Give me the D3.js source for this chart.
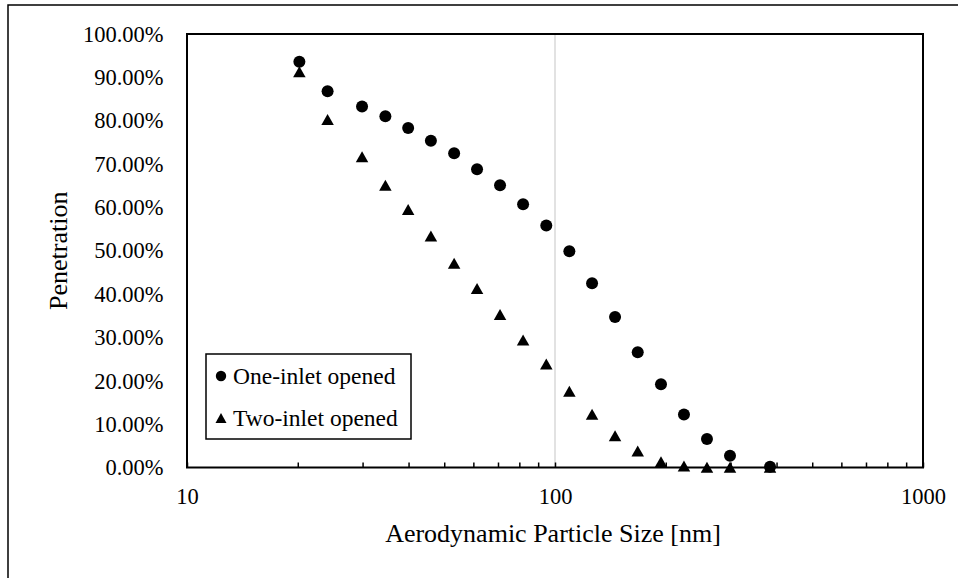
<!DOCTYPE html>
<html>
<head>
<meta charset="utf-8">
<script src="https://cdn.jsdelivr.net/npm/d3@7"></script>
<style>
  html, body { margin: 0; padding: 0; background: #fff; }
  svg { display: block; }
  text { font-family: "Liberation Serif", "Times New Roman", serif; fill: #000; }
</style>
</head>
<body>
<svg id="chart" width="958" height="578"></svg>
<script>
// Aerodynamic particle size bins [nm]
const sizes = [20.2, 24.1, 29.9, 34.6, 39.9, 46.0, 53.2, 61.4, 70.9, 81.9,
               94.7, 109.4, 126.1, 145.6, 167.8, 194.1, 224.1, 258.8, 298.9, 384.0];
// Penetration (fraction) with one inlet opened
const oneInlet = [0.936, 0.868, 0.833, 0.810, 0.783, 0.754, 0.725, 0.688, 0.651, 0.607,
                  0.558, 0.499, 0.425, 0.347, 0.266, 0.192, 0.122, 0.066, 0.027, 0.002];
// Penetration (fraction) with two inlets opened
const twoInlet = [0.913, 0.803, 0.717, 0.651, 0.595, 0.534, 0.471, 0.413, 0.353, 0.294,
                  0.239, 0.176, 0.123, 0.073, 0.038, 0.013, 0.0035, 0.0005, 0.0005, 0.0003];
const seriesNames = ["One-inlet opened", "Two-inlet opened"];
const yTicks = [0, 0.1, 0.2, 0.3, 0.4, 0.5, 0.6, 0.7, 0.8, 0.9, 1.0];
const xMajorTicks = [10, 100, 1000];

const svg = d3.select("#chart");
const plot = { left: 187, right: 923, top: 34, bottom: 467.5 };

const x = d3.scaleLog().domain([10, 1000]).range([plot.left, plot.right]);
const y = d3.scaleLinear().domain([0, 1]).range([plot.bottom, plot.top]);

// outer chart border (top and left edges visible)
svg.append("path")
  .attr("d", "M8,578V5H958")
  .attr("fill", "none").attr("stroke", "#000").attr("stroke-width", 1.5);

// vertical gridline at each inner decade
svg.append("g").selectAll("line")
  .data(xMajorTicks.filter(v => v > 10 && v < 1000))
  .join("line")
  .attr("x1", d => x(d)).attr("x2", d => x(d))
  .attr("y1", plot.top).attr("y2", plot.bottom)
  .attr("stroke", "#d9d9d9").attr("stroke-width", 1.5);

// x axis: minor ticks pointing into the plot, labels only at decades
const minorTicks = [];
for (const dec of [10, 100]) for (let k = 1; k <= 9; k++) minorTicks.push(dec * k);
minorTicks.push(1000);
const xAxis = d3.axisBottom(x)
  .tickValues(minorTicks)
  .tickSizeInner(-5).tickSizeOuter(0)
  .tickPadding(21)
  .tickFormat(d => xMajorTicks.includes(d) ? String(d) : "");
const gx = svg.append("g").attr("transform", `translate(0,${plot.bottom})`).call(xAxis);
gx.select(".domain").remove();
gx.selectAll(".tick line").attr("stroke", "#000").attr("stroke-width", 1.5);
gx.selectAll(".tick text").attr("font-size", 22.5).attr("font-family", "Liberation Serif");

// y axis: percentage labels, no tick marks
const yAxis = d3.axisLeft(y)
  .tickValues(yTicks)
  .tickSize(0).tickPadding(23.5)
  .tickFormat(d3.format(".2%"));
const gy = svg.append("g").attr("transform", `translate(${plot.left},0)`).call(yAxis);
gy.select(".domain").remove();
gy.selectAll(".tick text").attr("font-size", 22.5).attr("font-family", "Liberation Serif");

// plot frame
svg.append("rect")
  .attr("x", plot.left).attr("y", plot.top)
  .attr("width", plot.right - plot.left).attr("height", plot.bottom - plot.top)
  .attr("fill", "none").attr("stroke", "#000").attr("stroke-width", 2);

// axis titles
svg.append("text")
  .attr("x", 553).attr("y", 542)
  .attr("text-anchor", "middle").attr("font-size", 26)
  .text("Aerodynamic Particle Size [nm]");
svg.append("text")
  .attr("transform", `translate(67,${(plot.top + plot.bottom) / 2}) rotate(-90)`)
  .attr("text-anchor", "middle").attr("font-size", 26)
  .text("Penetration");

// triangle marker centred on its bounding box
const tri = (w, h) => `M0,${-h / 2}L${w / 2},${h / 2}L${-w / 2},${h / 2}Z`;

const pts = sizes.map((s, i) => ({ s, a: oneInlet[i], b: twoInlet[i] }));

svg.append("g").selectAll("circle")
  .data(pts).join("circle")
  .attr("cx", d => x(d.s)).attr("cy", d => y(d.a))
  .attr("r", 6).attr("fill", "#000");

svg.append("g").selectAll("path")
  .data(pts).join("path")
  .attr("transform", d => `translate(${x(d.s)},${y(d.b)})`)
  .attr("d", tri(12.5, 11))
  .attr("fill", "#000");

// legend
const lg = svg.append("g");
lg.append("rect")
  .attr("x", 206).attr("y", 354).attr("width", 205).attr("height", 85)
  .attr("fill", "#fff").attr("stroke", "#000").attr("stroke-width", 1.5);
lg.append("circle").attr("cx", 221).attr("cy", 376).attr("r", 5.2).attr("fill", "#000");
lg.append("path").attr("transform", "translate(221,418)").attr("d", tri(11, 10)).attr("fill", "#000");
lg.append("text").attr("x", 233).attr("y", 383.5).attr("font-size", 23.5).text(seriesNames[0]);
lg.append("text").attr("x", 233).attr("y", 426).attr("font-size", 23.5).text(seriesNames[1]);
</script>
</body>
</html>
